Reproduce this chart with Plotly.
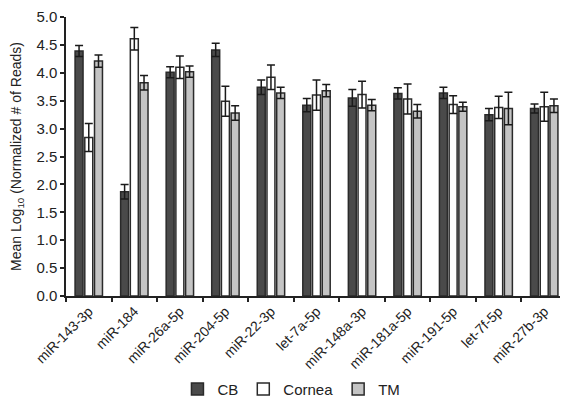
import plotly.graph_objects as go

categories = ["miR-143-3p", "miR-184", "miR-26a-5p", "miR-204-5p", "miR-22-3p", "let-7a-5p",
              "miR-148a-3p", "miR-181a-5p", "miR-191-5p", "let-7f-5p", "miR-27b-3p"]
cb = [4.39, 1.87, 4.01, 4.41, 3.74, 3.42, 3.55, 3.63, 3.64, 3.25, 3.36]
cb_err = [0.10, 0.13, 0.10, 0.12, 0.13, 0.12, 0.15, 0.10, 0.10, 0.11, 0.08]
cornea = [2.84, 4.61, 4.10, 3.49, 3.92, 3.60, 3.61, 3.53, 3.43, 3.38, 3.39]
cornea_err = [0.25, 0.20, 0.20, 0.27, 0.22, 0.27, 0.24, 0.27, 0.16, 0.20, 0.26]
tm = [4.21, 3.82, 4.02, 3.28, 3.64, 3.68, 3.42, 3.31, 3.39, 3.36, 3.41]
tm_err = [0.11, 0.13, 0.10, 0.13, 0.10, 0.11, 0.10, 0.12, 0.08, 0.29, 0.12]

series = [("CB", cb, cb_err, "#4a4a4a"),
          ("Cornea", cornea, cornea_err, "#ffffff"),
          ("TM", tm, tm_err, "#c4c4c4")]

fig = go.Figure()
for name, vals, errs, color in series:
    fig.add_trace(go.Bar(
        name=name, x=categories, y=vals,
        marker=dict(color=color, line=dict(color="#2a2a2a", width=1.5)),
        error_y=dict(type="data", array=errs, visible=True, color="#1a1a1a",
                     thickness=1.5, width=4),
    ))

font_family = "Liberation Sans, Arial, sans-serif"
fig.update_layout(
    width=560, height=393,
    barmode="group", bargap=0.36, bargroupgap=0.18,
    plot_bgcolor="white", paper_bgcolor="white",
    margin=dict(l=58, r=1, t=9, b=105, autoexpand=False),
    font=dict(family=font_family, size=14, color="#222222"),
    showlegend=True,
    legend=dict(orientation="h", x=0.45, xanchor="center", yref="container",
                y=0.03, yanchor="middle",
                font=dict(size=15), itemwidth=30, traceorder="normal"),
    xaxis=dict(showline=True, linecolor="#222222", linewidth=1.5, ticks="outside",
               tickson="boundaries", ticklen=4, tickcolor="#222222", tickwidth=1.5,
               tickangle=-45, tickfont=dict(size=14), showgrid=False, automargin=False),
    yaxis=dict(range=[0, 5], dtick=0.5, tickformat=".1f", showline=True,
               linecolor="#222222", linewidth=1.5, ticks="outside", ticklen=4,
               tickcolor="#222222", tickwidth=1.5, showgrid=False, zeroline=False,
               tickfont=dict(size=15), automargin=False,
               title=dict(text="Mean Log<sub>10</sub> (Normalized # of Reads)",
                          font=dict(size=14), standoff=20)),
)

fig.write_html("out.html")
